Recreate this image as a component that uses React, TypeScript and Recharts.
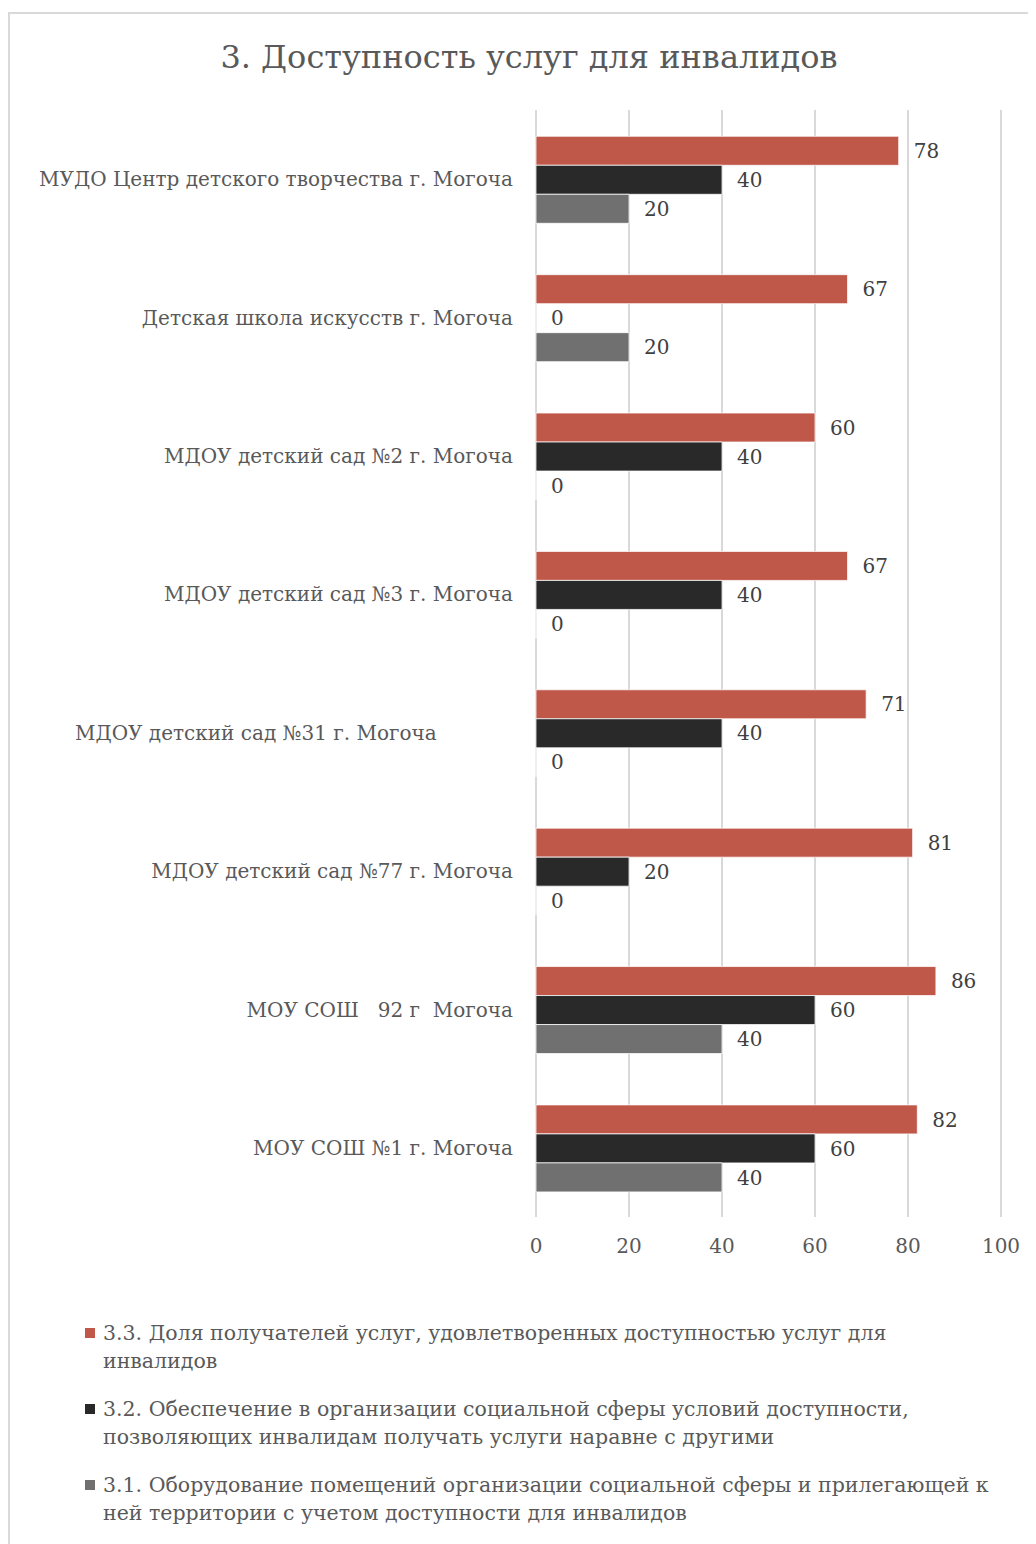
import { BarChart, Bar, XAxis, YAxis, CartesianGrid, LabelList } from "recharts";

const NB = "\u00A0";

const categories = [
  "МУДО Центр детского творчества г. Могоча",
  "Детская школа искусств г. Могоча",
  "МДОУ детский сад №2 г. Могоча",
  "МДОУ детский сад №3 г. Могоча",
  "МДОУ детский сад №31 г. Могоча" + NB.repeat(12),
  "МДОУ детский сад №77 г. Могоча",
  "МОУ СОШ " + NB + NB + "92 г " + NB + "Могоча",
  "МОУ СОШ №1 г. Могоча",
];

const share33 = [78, 67, 60, 67, 71, 81, 86, 82];
const cond32 = [40, 0, 40, 40, 40, 20, 60, 60];
const equip31 = [20, 20, 0, 0, 0, 0, 40, 40];

const xTicks = [0, 20, 40, 60, 80, 100];

const series = [
  {
    key: "s33",
    name: "3.3. Доля получателей услуг, удовлетворенных доступностью услуг для инвалидов",
    color: "#C0584A",
  },
  {
    key: "s32",
    name: "3.2. Обеспечение в организации социальной сферы условий доступности, позволяющих инвалидам получать услуги наравне с другими",
    color: "#292929",
  },
  {
    key: "s31",
    name: "3.1. Оборудование помещений организации социальной сферы и прилегающей к ней территории с учетом доступности для инвалидов",
    color: "#707070",
  },
];

const data = categories.map((name, i) => ({
  name,
  s33: share33[i],
  s32: cond32[i],
  s31: equip31[i],
}));

const FONT = "'DejaVu Serif', serif";

export default function App() {
  return (
    <div
      style={{
        position: "relative",
        marginTop: 4,
        width: 1100,
        height: 1560,
        borderLeft: "2px solid #d9d9d9",
        borderTop: "2px solid #d9d9d9",
        fontFamily: FONT,
        color: "#595959",
        background: "#fff",
      }}
    >
      <div
        style={{
          position: "absolute",
          top: 23,
          left: 0,
          width: 1038,
          textAlign: "center",
          fontSize: 32,
          lineHeight: "40px",
        }}
      >
        3. Доступность услуг для инвалидов
      </div>

      <div style={{ position: "absolute", top: 86, left: 0 }}>
        <BarChart
          width={1026}
          height={1170}
          data={data}
          layout="vertical"
          margin={{ top: 10, right: 35, bottom: 3, left: 0 }}
          barCategoryGap="19%"
          barGap={0}
        >
          <CartesianGrid horizontal={false} stroke="#d9d9d9" strokeWidth={2} />
          <XAxis
            type="number"
            domain={[0, 100]}
            ticks={xTicks}
            axisLine={false}
            tickLine={false}
            tickSize={0}
            tickMargin={22}
            height={50}
            tick={{ fontSize: 20, fill: "#595959" }}
          />
          <YAxis
            type="category"
            dataKey="name"
            width={526}
            axisLine={false}
            tickLine={false}
            tickSize={0}
            tickMargin={23}
            tick={{ fontSize: 20, fill: "#595959" }}
          />
          {series.map((s) => (
            <Bar
              key={s.key}
              dataKey={s.key}
              name={s.name}
              fill={s.color}
              stroke="#ffffff"
              strokeWidth={0.75}
              minPointSize={0.01}
              isAnimationActive={false}
            >
              <LabelList
                dataKey={s.key}
                position="right"
                offset={15}
                fill="#404040"
                fontSize={20}
              />
            </Bar>
          ))}
        </BarChart>
      </div>

      <div style={{ position: "absolute", top: 1305, left: 75, width: 909 }}>
        {series.map((s) => (
          <div
            key={s.key}
            style={{
              position: "relative",
              paddingLeft: 18,
              marginBottom: 20,
              fontSize: 20.5,
              lineHeight: "28px",
            }}
          >
            <span
              style={{
                position: "absolute",
                left: 0,
                top: 9,
                width: 10,
                height: 10,
                background: s.color,
              }}
            />
            {s.name}
          </div>
        ))}
      </div>
    </div>
  );
}
